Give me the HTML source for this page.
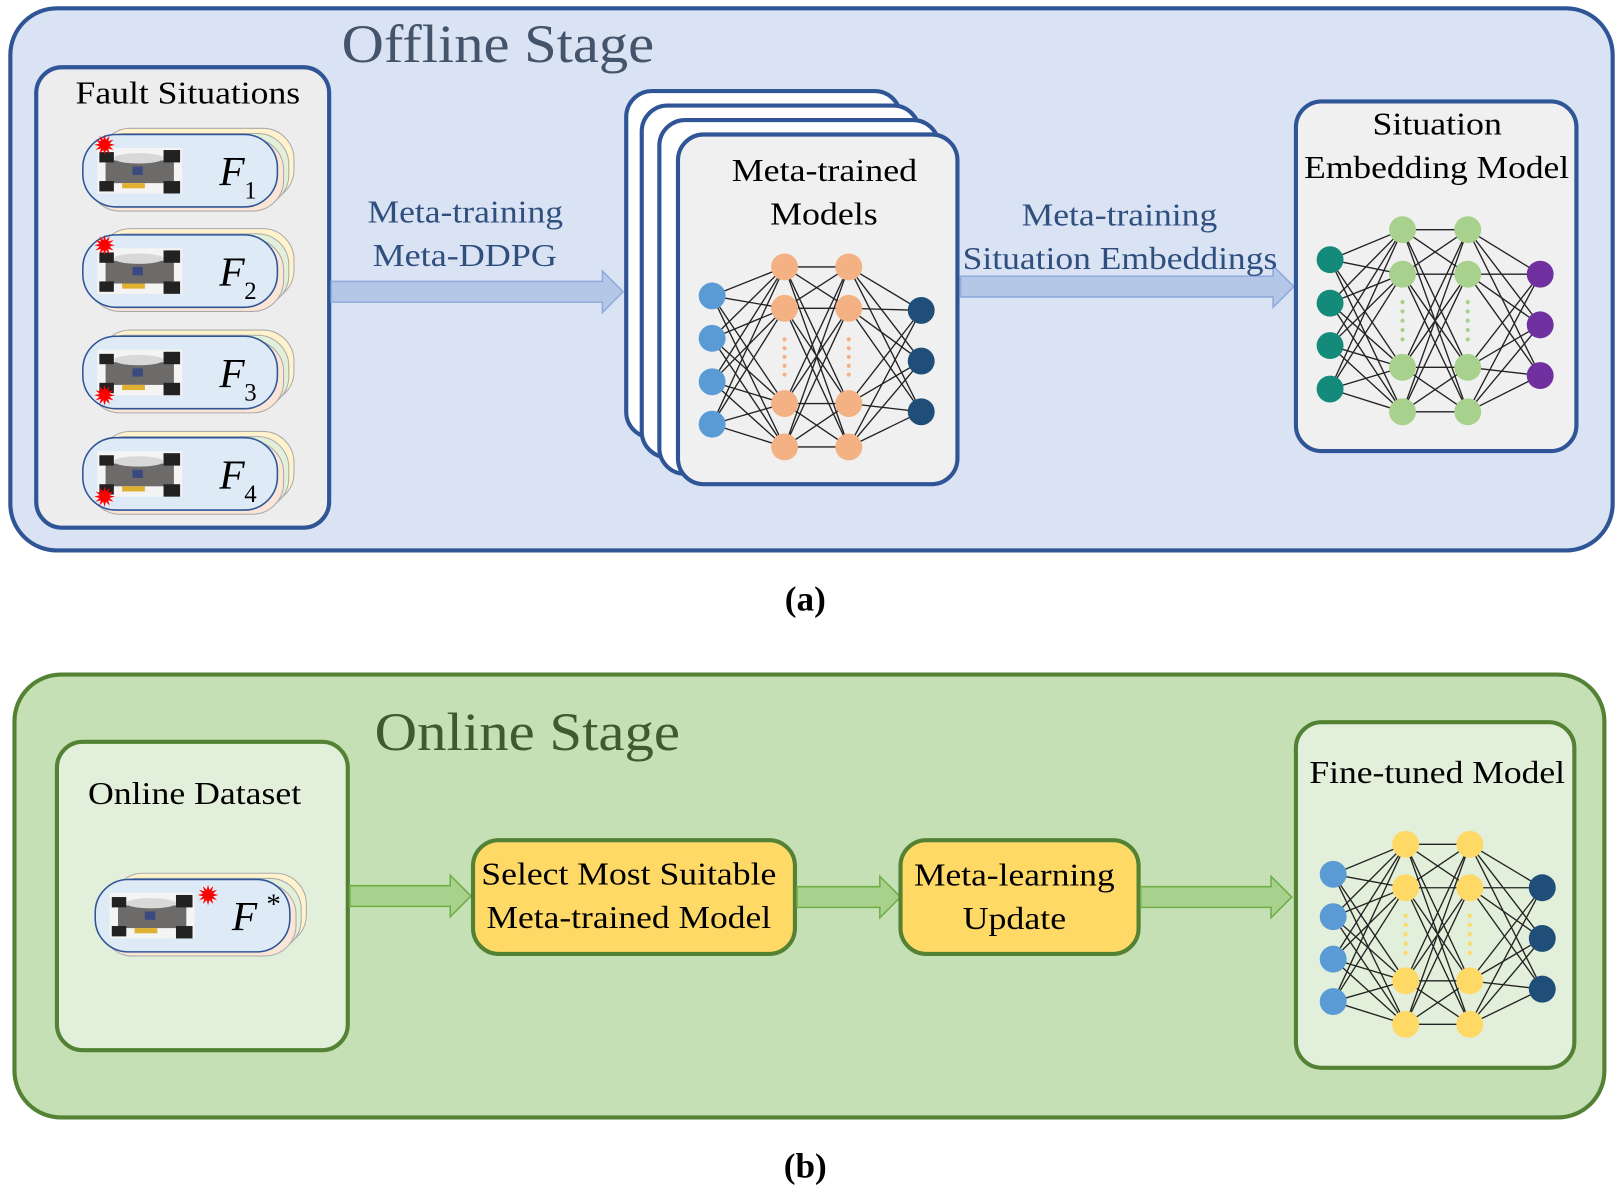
<!DOCTYPE html>
<html><head><meta charset="utf-8"><style>
html,body{margin:0;padding:0;background:#fff;}
svg{display:block;}
text{font-family:"Liberation Serif",serif;}
</style></head><body>
<svg id="s" width="1623" height="1194" viewBox="0 0 1568 1154" preserveAspectRatio="none" xmlns="http://www.w3.org/2000/svg">
<defs>
<g id="car">
  <rect x="0" y="0" width="82" height="44" fill="#f4f4f4"/>
  <rect x="8" y="12" width="66" height="22" fill="#6d6a6a"/>
  <ellipse cx="40" cy="10" rx="24" ry="5" fill="#d8d8d8"/>
  <rect x="2" y="4" width="14" height="10" fill="#222"/>
  <rect x="2" y="32" width="14" height="10" fill="#222"/>
  <rect x="64" y="2" width="16" height="12" fill="#222"/>
  <rect x="64" y="32" width="16" height="12" fill="#222"/>
  <rect x="24" y="34" width="22" height="5" fill="#e0b030"/>
  <rect x="34" y="18" width="10" height="8" fill="#3a4a80"/>
</g>
</defs>
<rect x="10" y="8" width="1548" height="524" rx="45" fill="#dae3f3" stroke="#2f5597" stroke-width="4"/>
<text x="330" y="60" font-size="52" fill="#44546a" textLength="302" lengthAdjust="spacingAndGlyphs">Offline Stage</text>
<rect x="35" y="65" width="283" height="445" rx="25" fill="#ededed" stroke="#2f5597" stroke-width="4"/>
<text x="73" y="100" font-size="31" textLength="217" lengthAdjust="spacingAndGlyphs">Fault Situations</text>
<g id="cards"></g>
<polygon points="320,272 582,272 582,262 602,282 582,302 582,292 320,292" fill="#b4c7e7" stroke="#8faadc" stroke-width="1.5"/>
<text x="355" y="215" font-size="31" fill="#2f4f7f" textLength="189" lengthAdjust="spacingAndGlyphs">Meta-training</text>
<text x="360" y="257" font-size="31" fill="#2f4f7f" textLength="178" lengthAdjust="spacingAndGlyphs">Meta-DDPG</text>
<rect x="605" y="88" width="265" height="335" rx="25" fill="#fff" stroke="#2f5597" stroke-width="4"/>
<rect x="620" y="102" width="268" height="340" rx="25" fill="#fff" stroke="#2f5597" stroke-width="4"/>
<rect x="637" y="116" width="270" height="342" rx="25" fill="#fff" stroke="#2f5597" stroke-width="4"/>
<rect x="655" y="130" width="270" height="338" rx="25" fill="#f0f0f0" stroke="#2f5597" stroke-width="4"/>
<text x="707" y="175" font-size="31" textLength="179" lengthAdjust="spacingAndGlyphs">Meta-trained</text>
<text x="744" y="217" font-size="31" textLength="104" lengthAdjust="spacingAndGlyphs">Models</text>
<polygon points="928,267 1230,267 1230,257 1250,277 1230,297 1230,287 928,287" fill="#b4c7e7" stroke="#8faadc" stroke-width="1.5"/>
<text x="987" y="218" font-size="31" fill="#2f4f7f" textLength="189" lengthAdjust="spacingAndGlyphs">Meta-training</text>
<text x="930" y="260" font-size="31" fill="#2f4f7f" textLength="304" lengthAdjust="spacingAndGlyphs">Situation Embeddings</text>
<rect x="1252" y="98" width="271" height="338" rx="25" fill="#f0f0f0" stroke="#2f5597" stroke-width="4"/>
<text x="1326" y="130" font-size="31" textLength="125" lengthAdjust="spacingAndGlyphs">Situation</text>
<text x="1260" y="172" font-size="31" textLength="256" lengthAdjust="spacingAndGlyphs">Embedding Model</text>
<text x="778" y="590" font-size="34" font-weight="bold" text-anchor="middle">(a)</text>
<rect x="14" y="652" width="1536" height="428" rx="45" fill="#c5e0b4" stroke="#548235" stroke-width="4"/>
<text x="362" y="725" font-size="52" fill="#3e5a2e" textLength="295" lengthAdjust="spacingAndGlyphs">Online Stage</text>
<rect x="55" y="717" width="281" height="298" rx="25" fill="#e2efda" stroke="#548235" stroke-width="4"/>
<text x="85" y="777" font-size="31" textLength="206" lengthAdjust="spacingAndGlyphs">Online Dataset</text>
<g id="card2"></g>
<polygon points="338,856 435,856 435,846 455,866 435,886 435,876 338,876" fill="#a9d18e" stroke="#70ad47" stroke-width="1.5"/>
<rect x="457" y="812" width="311" height="110" rx="25" fill="#ffd966" stroke="#548235" stroke-width="4"/>
<text x="465" y="855" font-size="31" textLength="285" lengthAdjust="spacingAndGlyphs">Select Most Suitable</text>
<text x="470" y="897" font-size="31" textLength="275" lengthAdjust="spacingAndGlyphs">Meta-trained Model</text>
<polygon points="770,857 850,857 850,847 870,867 850,887 850,877 770,877" fill="#a9d18e" stroke="#70ad47" stroke-width="1.5"/>
<rect x="870" y="812" width="230" height="110" rx="25" fill="#ffd966" stroke="#548235" stroke-width="4"/>
<text x="883" y="856" font-size="31" textLength="194" lengthAdjust="spacingAndGlyphs">Meta-learning</text>
<text x="930" y="898" font-size="31" textLength="100" lengthAdjust="spacingAndGlyphs">Update</text>
<polygon points="1102,857 1228,857 1228,847 1248,867 1228,887 1228,877 1102,877" fill="#a9d18e" stroke="#70ad47" stroke-width="1.5"/>
<rect x="1252" y="698" width="269" height="334" rx="25" fill="#e2efda" stroke="#548235" stroke-width="4"/>
<text x="1265" y="757" font-size="31" textLength="247" lengthAdjust="spacingAndGlyphs">Fine-tuned Model</text>
<text x="778" y="1138" font-size="34" font-weight="bold" text-anchor="middle">(b)</text>
<g id="nets"></g>
</svg>
<script>
var NS="http://www.w3.org/2000/svg";
function el(p,t,a,txt){var e=document.createElementNS(NS,t);for(var k in a)e.setAttribute(k,a[k]);if(txt){e.textContent=txt;}p.appendChild(e);return e;}
function star(p,cx,cy){var pts=[];for(var i=0;i<24;i++){var r=i%2?5:10;var a=i*Math.PI/12;pts.push((cx+r*Math.cos(a)).toFixed(1)+","+(cy+r*Math.sin(a)).toFixed(1));}el(p,"polygon",{points:pts.join(" "),fill:"#f00"});}
function card(p,x,cy,sup,st){
  var w=188,h=70,y=cy-h/2;
  var cols=["#fbe5d6","#e2f0d9","#fff2cc"];
  for(var i=2;i>=0;i--){el(p,"rect",{x:x+6+i*5,y:y-6-i*5+10,width:w,height:h,rx:30,fill:cols[i],stroke:"#aaa","stroke-width":1});}
  el(p,"rect",{x:x,y:y,width:w,height:h,rx:32,fill:"#deebf7",stroke:"#2f5597","stroke-width":1.5});
  var u=el(p,"use",{href:"#car",x:x+14,y:cy-22});
  u.setAttributeNS("http://www.w3.org/1999/xlink","xlink:href","#car");
  star(p,st[0],st[1]);
  el(p,"text",{x:x+132,y:cy+14,"font-size":40,"font-style":"italic"},"F");
  if(sup){el(p,"text",{x:x+164,y:cy-2,"font-size":28,"font-style":"italic"},"*");}
}
var cg=document.getElementById("cards");
[165,262,360,458].forEach(function(cy,i){
  card(cg,80,cy,false,i<2?[101,cy-25]:[101,cy+22]);
  el(cg,"text",{x:236,y:cy+27,"font-size":24},String(i+1));
});
card(document.getElementById("card2"),92,885,true,[201,865]);
function net(layers,cols){
  var g=document.getElementById("nets");
  for(var l=0;l<layers.length-1;l++){
    layers[l].ys.forEach(function(a){layers[l+1].ys.forEach(function(b){
      el(g,"line",{x1:layers[l].x,y1:a,x2:layers[l+1].x,y2:b,stroke:"#222","stroke-width":1.3});
    });});
  }
  layers.forEach(function(L,i){
    if(L.dot){for(var d=0;d<5;d++)el(g,"circle",{cx:L.x,cy:L.dot[0]+d*(L.dot[1]-L.dot[0])/4,r:2,fill:cols[i]});}
    L.ys.forEach(function(y){el(g,"circle",{cx:L.x,cy:y,r:13,fill:cols[i]});});
  });
}
net([{x:688,ys:[286,327,369,410]},{x:758,ys:[258,298,390,432],dot:[328,362]},{x:820,ys:[258,298,390,432],dot:[328,362]},{x:890,ys:[300,349,398]}],
 ["#5b9bd5","#f4b183","#f4b183","#1f4e79"]);
net([{x:1285,ys:[251,293,334,376]},{x:1355,ys:[222,265,355,398],dot:[292,328]},{x:1418,ys:[222,265,355,398],dot:[292,328]},{x:1488,ys:[265,314,363]}],
 ["#138a7a","#a9d18e","#a9d18e","#7030a0"]);
net([{x:1288,ys:[845,886,927,968]},{x:1358,ys:[816,858,948,990],dot:[885,921]},{x:1420,ys:[816,858,948,990],dot:[885,921]},{x:1490,ys:[858,907,956]}],
 ["#5b9bd5","#ffd966","#ffd966","#1f4e79"]);
</script>
</body></html>
